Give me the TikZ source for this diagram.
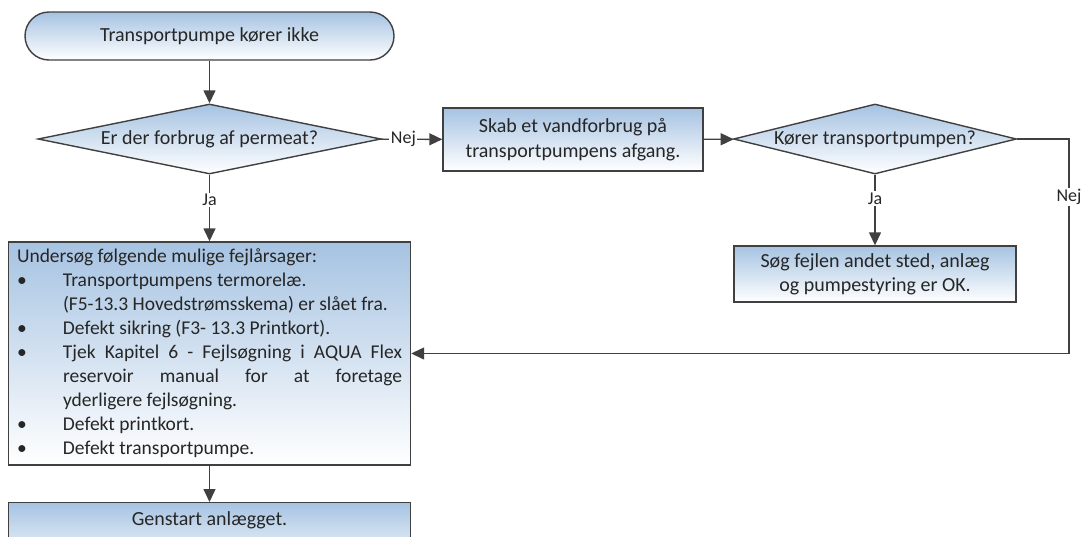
\documentclass[tikz,border=0pt]{standalone}
\usepackage{fontspec}
\setmainfont{Carlito}
\usetikzlibrary{shapes.geometric,arrows.meta}
\definecolor{lineg}{RGB}{64,64,64}
\definecolor{topb}{RGB}{166,195,226}
\definecolor{txt}{RGB}{38,38,38}
\newcommand{\bitem}{\makebox[46pt][l]{\textbullet}}
\newcommand{\bcont}{\hspace*{46pt}}
\begin{document}
\begin{tikzpicture}[x=1pt,y=-1pt,
  base/.style={draw=lineg, line width=1.4pt, top color=topb, bottom color=white, text=txt, inner sep=0pt, font=\fontsize{20}{24}\selectfont},
  procbox/.style={base, rectangle, align=center},
  decide/.style={base, diamond},
  startend/.style={base, rectangle, rounded corners=24pt},
  conn/.style={draw=lineg, line width=1.4pt, -{Triangle[length=13pt,width=12pt]}},
  lbl/.style={fill=white, text=txt, inner sep=1.5pt, font=\fontsize{18}{22}\selectfont}
]
\useasboundingbox (0,0) rectangle (1082,536);
\clip (0,0) rectangle (1082,536);

\node[startend, minimum width=369pt, minimum height=48pt] (start) at (209.5,36) {Transportpumpe kører ikke};
\node[decide, minimum width=343pt, minimum height=70pt] (d1) at (209.5,139) {\makebox[0pt]{Er der forbrug af permeat?}};
\node[procbox, minimum width=260pt, minimum height=63pt, font=\fontsize{20}{25}\selectfont] (skab) at (573,139.5) {Skab et vandforbrug på\\transportpumpens afgang.};
\node[decide, minimum width=283pt, minimum height=70pt] (d2) at (875,139) {\makebox[0pt]{Kører transportpumpen?}};
\node[procbox, minimum width=282pt, minimum height=56pt] (sog) at (875,274) {Søg fejlen andet sted, anlæg\\og pumpestyring er OK.};
\node[procbox, minimum width=402pt, minimum height=223pt, font=\fontsize{19.5}{24}\selectfont] (box1) at (209.5,353.5) {\begin{tabular}{@{}l@{}}
Undersøg følgende mulige fejlårsager:\\
\bitem Transportpumpens termorelæ.\\
\bcont (F5-13.3 Hovedstrømsskema) er slået fra.\\
\bitem Defekt sikring (F3- 13.3 Printkort).\\
\bitem\hbox to 339pt{Tjek\hfill Kapitel\hfill 6\hfill -\hfill Fejlsøgning\hfill i\hfill AQUA\hfill Flex}\\
\bcont\hbox to 339pt{reservoir\hfill manual\hfill for\hfill at\hfill foretage}\\
\bcont yderligere fejlsøgning.\\
\bitem Defekt printkort.\\
\bitem Defekt transportpumpe.
\end{tabular}};
\node[procbox, minimum width=402pt, anchor=north, text height=19pt, text depth=40pt, inner ysep=4pt] (box2) at (209.5,502) {Genstart anlægget.};

\coordinate (c1) at (1069,139);
\coordinate (c2) at (1069,353.5);

\draw[conn] (start) -- (d1);
\draw[conn] (d1) -- node[lbl,pos=0.37]{Nej} (skab);
\draw[conn] (d1.south) -- node[lbl,pos=0.38]{Ja} (d1.south |- box1.north);
\draw[conn] (skab) -- (d2);
\draw[conn] (d2.south) -- node[lbl,pos=0.34]{Ja} (d2.south |- sog.north);
\draw[conn] (d2.east) -- (c1) -- node[lbl,pos=0.27]{Nej} (c2) -- (box1.east);
\draw[conn] (box1) -- (box2);
\end{tikzpicture}
\end{document}
